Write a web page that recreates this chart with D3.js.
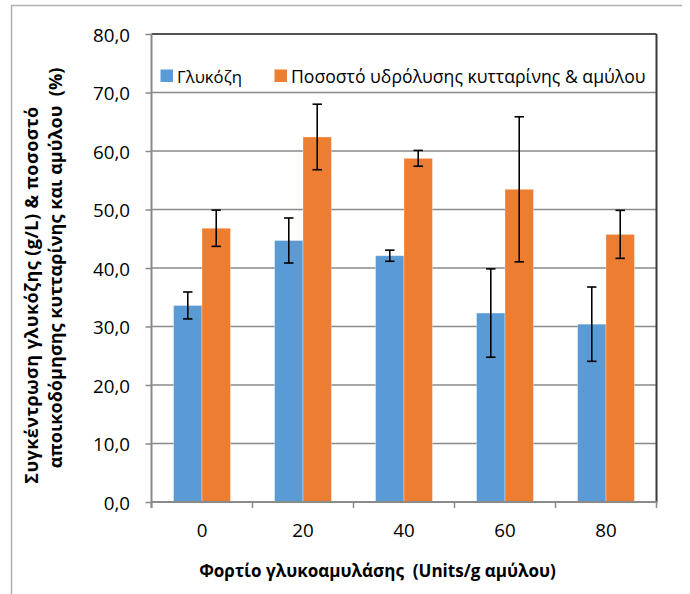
<!DOCTYPE html>
<html><head><meta charset="utf-8">
<script src="https://cdn.jsdelivr.net/npm/d3@7"></script>
<style>
html,body{margin:0;padding:0;background:#fff;}
svg{display:block;}
text{font-family:"Open Sans",sans-serif;fill:#000;white-space:pre;}
</style></head>
<body>
<svg id="chart" width="690" height="594"></svg>
<script>
// ---- data ----
const categories = ["0", "20", "40", "60", "80"];
const seriesNames = ["Γλυκόζη", "Ποσοστό υδρόλυσης κυτταρίνης & αμύλου"];
const glucose = [33.6, 44.7, 42.1, 32.3, 30.4];
const glucoseErr = [2.3, 3.85, 0.95, 7.55, 6.35];
const hydrolysis = [46.8, 62.4, 58.75, 53.45, 45.75];
const hydrolysisErr = [3.1, 5.6, 1.35, 12.4, 4.1];
const yTicks = [0, 10, 20, 30, 40, 50, 60, 70, 80];
const xTitle = "Φορτίο γλυκοαμυλάσης  (Units/g αμύλου)";
const yTitle1 = "Συγκέντρωση γλυκόζης (g/L) & ποσοστό";
const yTitle2 = "αποικοδόμησης κυτταρίνης και αμύλου  (%)";
const colors = ["#5b9bd5", "#ed7d31"];

(function () {
const svg = d3.select("#chart");
const pL = 151.5, pR = 656.5, pT = 34, pB = 502;

function fit(t, w) {
  t.style("font-size", "20px");
  const L = t.node().getComputedTextLength();
  t.style("font-size", (20 * w / L) + "px");
}

// outer frame
svg.append("path").attr("d", "M11.5,594 L11.5,5.5 L682,5.5")
  .attr("fill", "none").attr("stroke", "#b0b0b0").attr("stroke-width", 1.5);

const y = d3.scaleLinear().domain([0, 80]).range([pB, pT]);
const x0 = d3.scaleBand().domain(categories).range([pL, pR]).paddingInner(0).paddingOuter(0);
const bw = x0.bandwidth() / 3.55;
const x1 = d3.scaleBand().domain([0, 1]).range([x0.bandwidth() / 2 - bw, x0.bandwidth() / 2 + bw]);

// gridlines
svg.append("g").selectAll("line").data(yTicks.filter(d => d > 0 && d < 80)).join("line")
  .attr("x1", pL).attr("x2", pR).attr("y1", d => y(d)).attr("y2", d => y(d))
  .attr("stroke", "#8a8a8a").attr("stroke-width", 1.5);

// bars
const data = [[glucose, glucoseErr], [hydrolysis, hydrolysisErr]];
data.forEach(([vals, errs], s) => {
  const g = svg.append("g");
  g.selectAll("rect").data(vals).join("rect")
    .attr("x", (d, i) => x0(categories[i]) + x1(s))
    .attr("width", x1.bandwidth())
    .attr("y", d => y(d)).attr("height", d => y(0) - y(d))
    .attr("fill", colors[s]).attr("stroke", "#ffffff").attr("stroke-opacity", 0.4).attr("stroke-width", 0.8);
});
// error bars
data.forEach(([vals, errs], s) => {
  const g = svg.append("g").attr("stroke", "#000").attr("stroke-width", 1.6);
  vals.forEach((v, i) => {
    const cx = x0(categories[i]) + x1(s) + x1.bandwidth() / 2;
    const yt = y(v + errs[i]), yb = y(v - errs[i]);
    g.append("line").attr("x1", cx).attr("x2", cx).attr("y1", yt).attr("y2", yb);
    g.append("line").attr("x1", cx - 4.7).attr("x2", cx + 4.7).attr("y1", yt).attr("y2", yt);
    g.append("line").attr("x1", cx - 4.7).attr("x2", cx + 4.7).attr("y1", yb).attr("y2", yb);
  });
});

// plot frame top & right
svg.append("line").attr("x1", pL).attr("x2", pR).attr("y1", pT).attr("y2", pT)
  .attr("stroke", "#1a1a1a").attr("stroke-width", 1.5);
svg.append("line").attr("x1", pR).attr("x2", pR).attr("y1", pT).attr("y2", pB)
  .attr("stroke", "#3a3a3a").attr("stroke-width", 2);

// y axis
const yAxis = d3.axisLeft(y).tickValues(yTicks).tickSize(6).tickFormat(d => d3.format(".1f")(d).replace(".", ","));
const ya = svg.append("g").attr("transform", `translate(${pL},0)`).call(yAxis);
ya.attr("font-family", null).attr("font-size", null);
ya.select(".domain").attr("stroke", "#8a8a8a").attr("stroke-width", 2).attr("d", `M0,${pT}V${pB + 6}`);
ya.selectAll(".tick line").attr("stroke", "#8a8a8a").attr("stroke-width", 1.5);
ya.selectAll(".tick text").attr("x", -21.5).attr("dy", null).attr("y", 7.3).attr("fill", "#000");
const lastTick = ya.selectAll(".tick text").filter(d => d === 80);
fit(lastTick, 37);
const yfs = lastTick.style("font-size");
ya.selectAll(".tick text").style("font-size", yfs);

// x axis
const xb = svg.append("g").attr("transform", `translate(0,${pB})`);
xb.append("line").attr("x1", pL).attr("x2", pR + 1).attr("stroke", "#8a8a8a").attr("stroke-width", 2);
const bounds = categories.map(c => x0(c)).concat([pR]);
xb.selectAll("line.tk").data(bounds).join("line").attr("class", "tk")
  .attr("x1", d => d).attr("x2", d => d).attr("y1", 0).attr("y2", 6)
  .attr("stroke", "#8a8a8a").attr("stroke-width", 1.5);
xb.selectAll("text").data(categories).join("text")
  .attr("x", d => x0(d) + x0.bandwidth() / 2).attr("y", 34.5)
  .attr("text-anchor", "middle").style("font-size", yfs).text(d => d);

// legend
const lg = svg.append("g");
const legX = [160.5, 274.5], legTextW = [65, 355];
seriesNames.forEach((n, i) => {
  lg.append("rect").attr("x", legX[i]).attr("y", 69.5).attr("width", 12.5).attr("height", 12.5).attr("fill", colors[i]);
  const t = lg.append("text").attr("x", legX[i] + 16.5).attr("y", 82.5).text(n);
  fit(t, legTextW[i]);
});

// axis titles
const xt = svg.append("text").attr("x", 377.5).attr("y", 577).attr("text-anchor", "middle")
  .style("font-weight", "bold").text(xTitle);
fit(xt, 357);
const tfs = parseFloat(xt.style("font-size")) * 1.06 + "px";
svg.append("text").attr("transform", "translate(38,295) rotate(-90)").attr("text-anchor", "middle")
  .style("font-weight", "bold").style("font-size", tfs).style("letter-spacing", "0.4px").text(yTitle1);
svg.append("text").attr("transform", "translate(62,268) rotate(-90)").attr("text-anchor", "middle")
  .style("font-weight", "bold").style("font-size", tfs).text(yTitle2);
})();
</script>
</body></html>
